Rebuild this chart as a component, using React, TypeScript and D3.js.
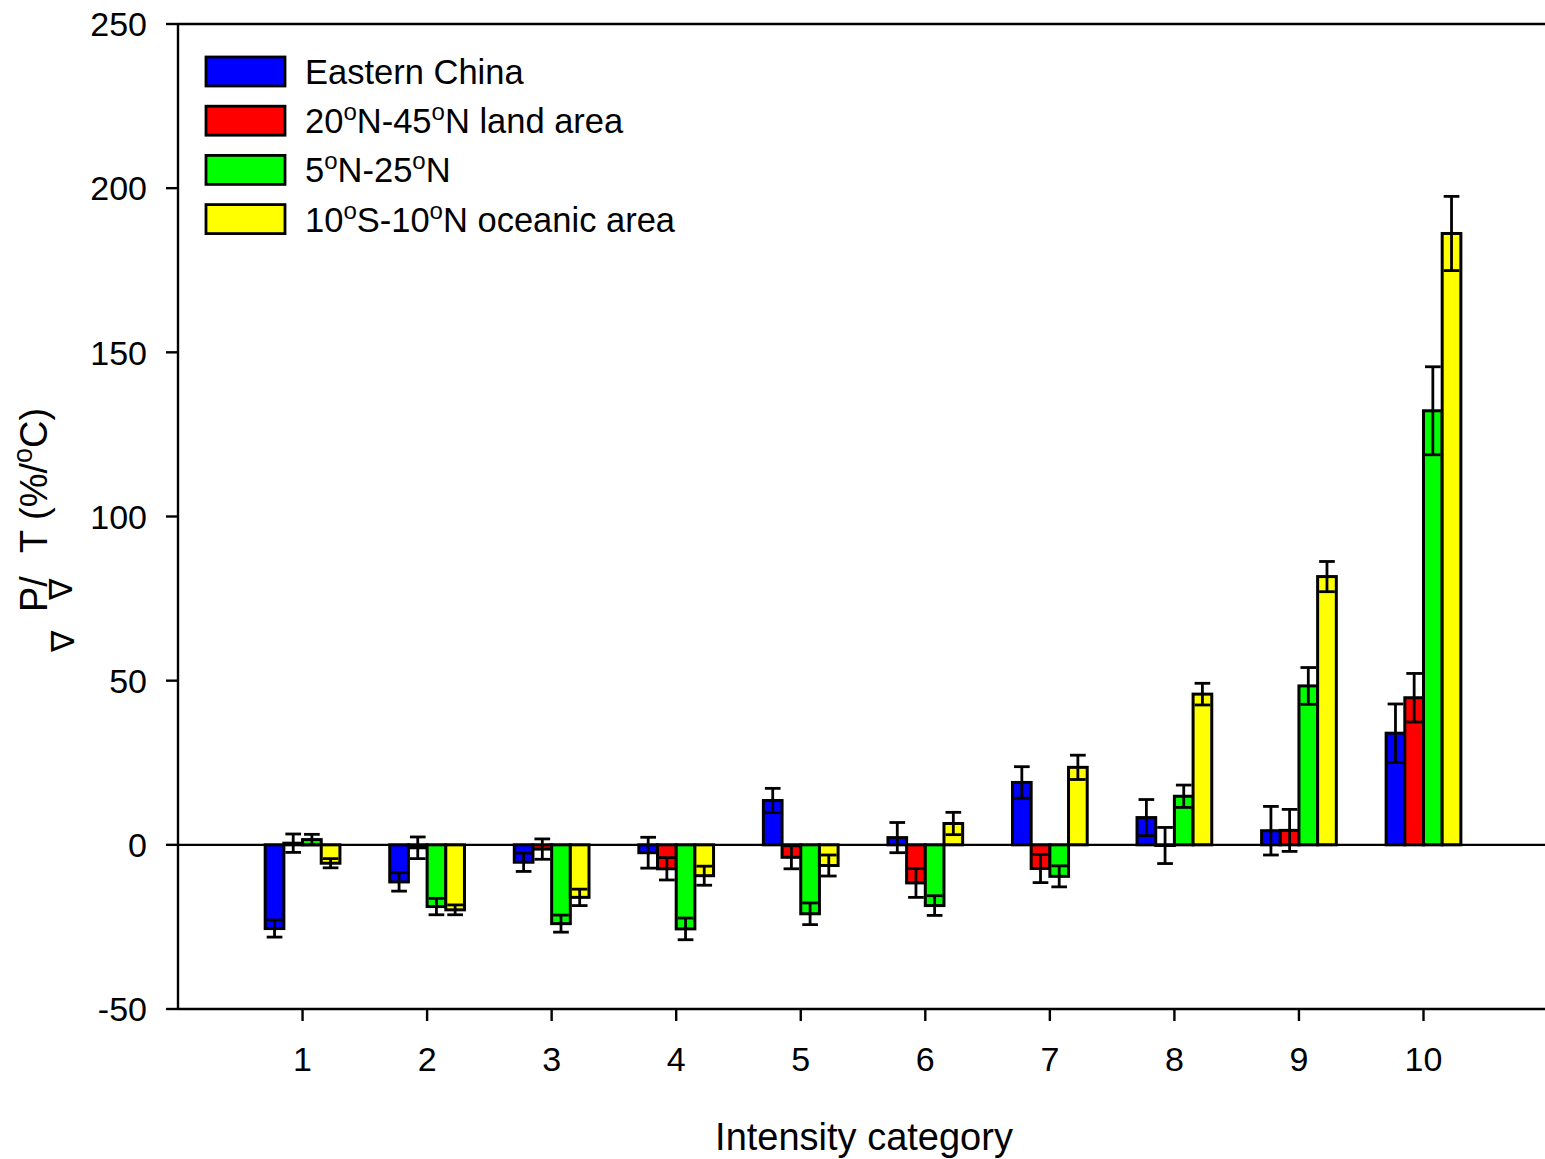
import React from "react";
import * as d3 from "d3";

const categories = [1, 2, 3, 4, 5, 6, 7, 8, 9, 10];
const seriesNames = ["Eastern China", "20°N-45°N land area", "5°N-25°N", "10°S-10°N oceanic area"];
const seriesColors = ["#0000ff", "#ff0000", "#00ff00", "#ffff00"];
const eastChina = [-25.5, -11.3, -5.3, -2.4, 13.5, 2.2, 19, 8.3, 4.3, 34];
const eastChinaErr = [2.6, 2.8, 2.8, 4.7, 3.7, 4.6, 4.8, 5.5, 7.4, 8.9];
const landArea = [0.5, -0.9, -1.3, -7.3, -3.8, -11.6, -7.2, -0.2, 4.4, 44.8];
const landAreaErr = [2.8, 3.3, 3.1, 3.4, 3.5, 4.4, 4.3, 5.5, 6.4, 7.4];
const band5to25 = [1.6, -18.8, -24, -25.6, -21, -18.5, -9.6, 14.8, 48.4, 132.2];
const band5to25Err = [1.6, 2.5, 2.6, 3.3, 3.3, 3.0, 3.2, 3.4, 5.6, 13.4];
const oceanic = [-5.6, -19.8, -16, -9.4, -6.3, 6.5, 23.6, 45.9, 81.7, 186.2];
const oceanicErr = [1.4, 1.5, 2.5, 2.9, 3.2, 3.4, 3.7, 3.3, 4.6, 11.3];
const yTicks = [-50, 0, 50, 100, 150, 200, 250];

const W = 1545;
const H = 1159;
const FONT = "'Liberation Sans', Arial, Helvetica, sans-serif";

export default function App() {
  const values = [eastChina, landArea, band5to25, oceanic];
  const errs = [eastChinaErr, landAreaErr, band5to25Err, oceanicErr];
  const x = d3.scaleLinear().domain([0, 11]).range([178, 178 + 11 * 124.55]);
  const y = d3.scaleLinear().domain([-50, 250]).range([1009, 24]);
  const unit = x(1) - x(0);
  const bw = unit * 0.15;
  const groupW = bw * 4;
  const capW = bw - 3;
  const xLeft = x.range()[0];
  const xRight = W;

  const bars: any[] = [];
  const errBars: any[] = [];
  values.forEach((vals, s) => {
    vals.forEach((v, i) => {
      const cx = x(categories[i]) - groupW / 2 + s * bw;
      const y0 = y(0);
      const yv = y(v);
      bars.push(
        <rect key={`b${s}-${i}`} x={cx} y={Math.min(y0, yv)} width={bw} height={Math.abs(yv - y0)}
          fill={seriesColors[s]} stroke="#000" strokeWidth={3} />
      );
      const mid = cx + bw / 2;
      const e = errs[s][i];
      const yt = y(v + e);
      const yb = y(v - e);
      errBars.push(
        <g key={`e${s}-${i}`} stroke="#000" strokeWidth={2.8}>
          <line x1={mid} x2={mid} y1={yt} y2={yb} />
          <line x1={mid - capW / 2} x2={mid + capW / 2} y1={yt} y2={yt} />
          <line x1={mid - capW / 2} x2={mid + capW / 2} y1={yb} y2={yb} />
        </g>
      );
    });
  });

  const legendY0 = 57;
  const legendStep = 49.2;

  const renderLabel = (name: string) => {
    const parts = name.split("°");
    const out: any[] = [];
    parts.forEach((p, k) => {
      if (k > 0) {
        out.push(<tspan key={`o${k}`} fontSize={24} dy={-13}>o</tspan>);
        out.push(<tspan key={`t${k}`} dy={13}>{p}</tspan>);
      } else {
        out.push(<tspan key={`t${k}`}>{p}</tspan>);
      }
    });
    return out;
  };

  return (
    <svg width={W} height={H} style={{ position: "absolute", left: 0, top: 0, background: "#fff" }}
      fontFamily={FONT}>
      <rect x={0} y={0} width={W} height={H} fill="#fff" />
      {/* frame lines */}
      <line x1={xLeft} x2={xRight} y1={y(250)} y2={y(250)} stroke="#000" strokeWidth={2.4} />
      <line x1={xLeft} x2={xRight} y1={y(-50)} y2={y(-50)} stroke="#000" strokeWidth={2.4} />
      <line x1={xLeft} x2={xLeft} y1={y(250)} y2={y(-50)} stroke="#000" strokeWidth={2.4} />
      {/* bars */}
      {bars}
      {/* zero line */}
      <line x1={xLeft} x2={xRight} y1={y(0)} y2={y(0)} stroke="#000" strokeWidth={2.4} />
      {errBars}
      {/* y ticks */}
      {yTicks.map((t) => (
        <g key={`yt${t}`}>
          <line x1={xLeft - 12} x2={xLeft} y1={y(t)} y2={y(t)} stroke="#000" strokeWidth={2.4} />
          <text x={147} y={y(t)} dy="0.36em" textAnchor="end" fontSize={34} fill="#000">{t}</text>
        </g>
      ))}
      {/* x ticks */}
      {categories.map((c) => (
        <g key={`xt${c}`}>
          <line x1={x(c)} x2={x(c)} y1={y(-50)} y2={y(-50) + 12} stroke="#000" strokeWidth={2.4} />
          <text x={x(c)} y={1071} textAnchor="middle" fontSize={34} fill="#000">{c}</text>
        </g>
      ))}
      {/* x title */}
      <text x={864} y={1150} textAnchor="middle" fontSize={38} fill="#000">Intensity category</text>
      {/* y title */}
      <g transform="rotate(-90)" fill="#000">
        <text x={-652} y={74} fontSize={32} fontFamily="'DejaVu Sans', sans-serif">∇</text>
        <text x={-612} y={47} fontSize={38}>P/</text>
        <text x={-600} y={72} fontSize={32} fontFamily="'DejaVu Sans', sans-serif">∇</text>
        <text x={-553} y={47} fontSize={38}>
          <tspan>T (%/</tspan>
          <tspan fontSize={27} dy={-15}>o</tspan>
          <tspan dy={15}>C)</tspan>
        </text>
      </g>
      {/* legend */}
      {seriesNames.map((n, s) => (
        <g key={`lg${s}`}>
          <rect x={206} y={legendY0 + s * legendStep} width={79} height={29} fill={seriesColors[s]}
            stroke="#000" strokeWidth={2.8} />
          <text x={305} y={legendY0 + s * legendStep + 27} fontSize={34.5} fill="#000">{renderLabel(n)}</text>
        </g>
      ))}
    </svg>
  );
}
